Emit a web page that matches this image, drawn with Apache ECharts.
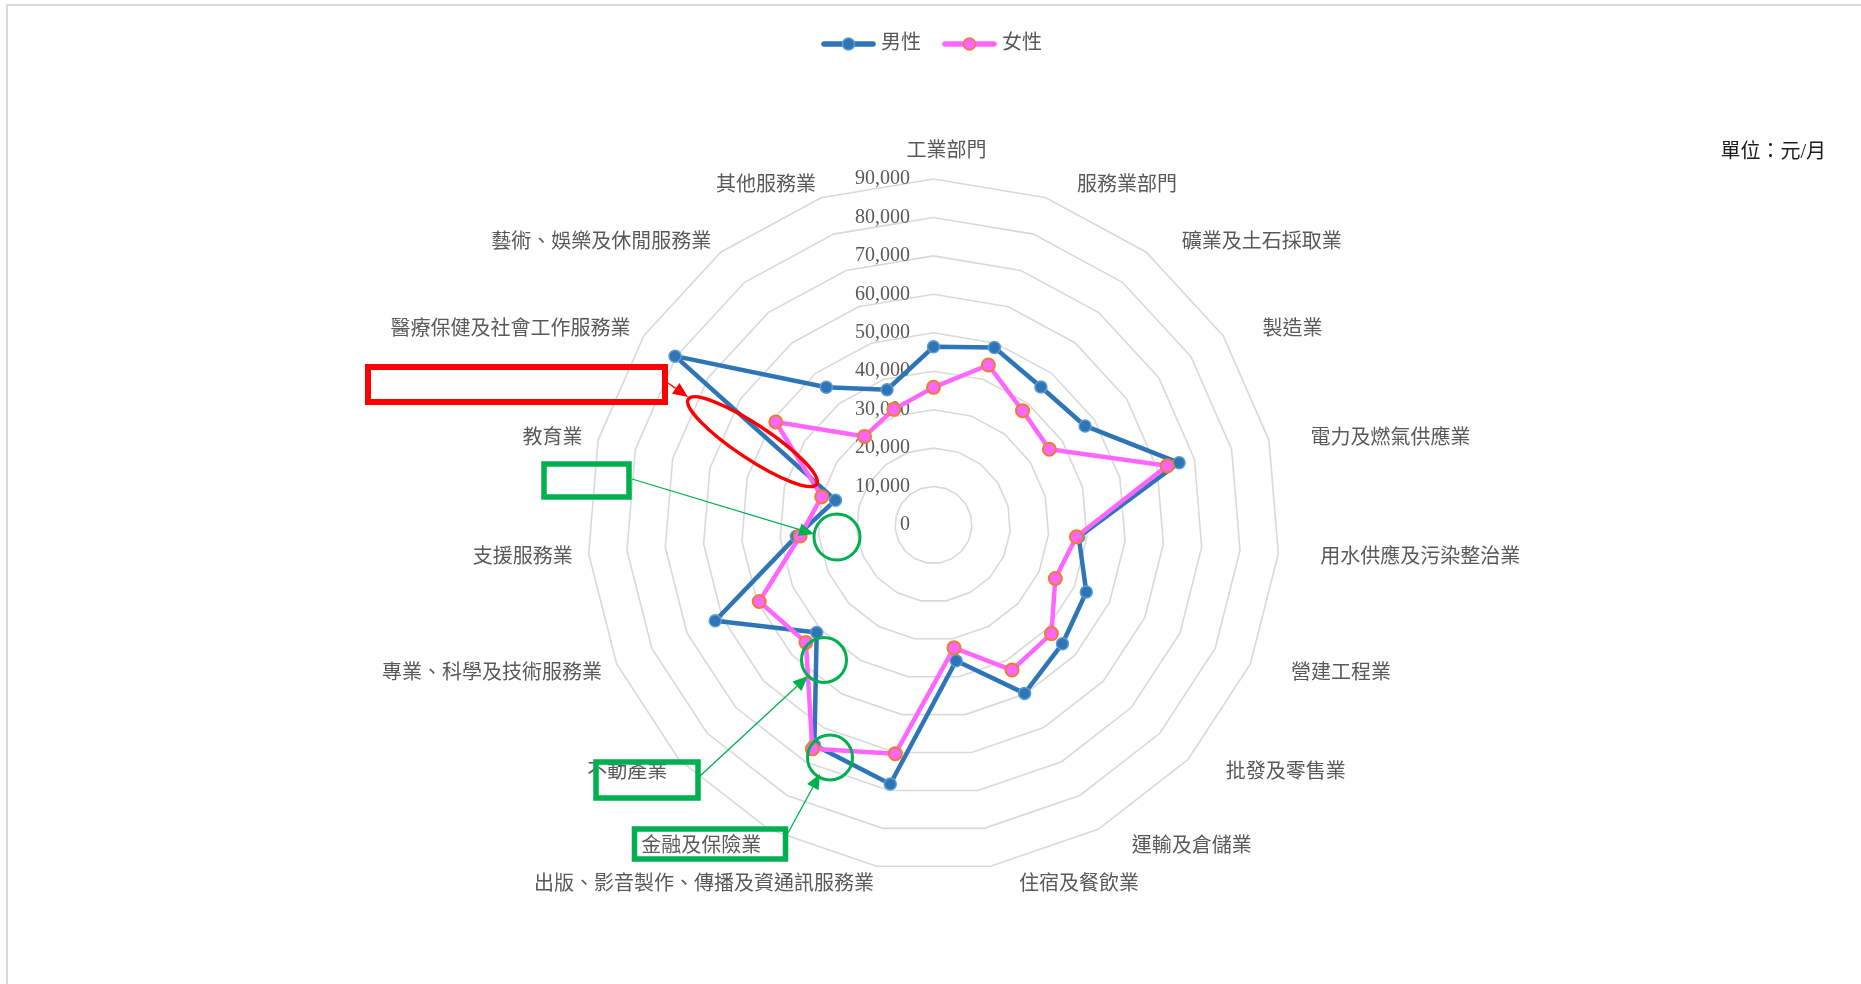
<!DOCTYPE html>
<html>
<head>
<meta charset="utf-8">
<script src="https://cdn.jsdelivr.net/npm/echarts@6/dist/echarts.min.js"></script>
<style>
html,body{margin:0;padding:0;background:#fff;overflow:hidden}
#c{position:absolute;left:0;top:0;width:1861px;height:984px}
#frame{position:absolute;left:6px;top:4px;width:1900px;height:1000px;border-left:2px solid #d9d9d9;border-top:2px solid #d9d9d9;pointer-events:none}
</style>
</head>
<body>
<div id="c"></div>
<div id="frame"></div>
<script>
// ---- data (clockwise from top) ----
const categories = ['工業部門','服務業部門','礦業及土石採取業','製造業','電力及燃氣供應業','用水供應及污染整治業','營建工程業','批發及零售業','運輸及倉儲業','住宿及餐飲業','出版、影音製作、傳播及資通訊服務業','金融及保險業','不動產業','專業、科學及技術服務業','支援服務業','教育業','醫療保健及社會工作服務業','藝術、娛樂及休閒服務業','其他服務業'];
const maleValues   = [46350, 48800, 45500, 47100, 65900, 37900, 43400, 45600, 49800, 35800, 68300, 65100, 41300, 62000, 35800, 26300, 80300, 45400, 37200];
const femaleValues = [35800, 44000, 37700, 36000, 62700, 37300, 34600, 41700, 42900, 32400, 60300, 66200, 45100, 49500, 34800, 30000, 49000, 29200, 31800];
const seriesNames = ['男性', '女性'];
const unitText = '單位：元/月';
const axisMin = 0, axisMax = 90000, axisStep = 10000;

// ---- styling ----
const FONT = '"Liberation Serif","Noto Sans CJK TC",serif';
const BLUE = '#2E75B6', BLUE_EDGE = '#5B9BD5';
const PINK = '#FF66FF', PINK_EDGE = '#ED7D31';
const TXT = '#595959';
const CX = 933.5, CY = 525, R = 346;

// ECharts places radar indicators counter-clockwise; reorder so they read clockwise
const n = categories.length;
const order = categories.map((_, k) => (k === 0 ? 0 : n - k));
const indicators = order.map(i => ({ name: categories[i], min: axisMin, max: axisMax }));
const maleData = order.map(i => maleValues[i]);
const femaleData = order.map(i => femaleValues[i]);

function legendIcon(line, fill, edge) {
  const svg = "<svg xmlns='http://www.w3.org/2000/svg' width='55' height='14'>" +
    "<line x1='3' y1='7' x2='52' y2='7' stroke='" + line + "' stroke-width='5.5' stroke-linecap='round'/>" +
    "<circle cx='27.5' cy='7' r='6' fill='" + fill + "' stroke='" + edge + "' stroke-width='1.6'/></svg>";
  return 'image://data:image/svg+xml;charset=utf-8,' + encodeURIComponent(svg);
}

function arrow(x1, y1, x2, y2, color) {
  const dx = x2 - x1, dy = y2 - y1, L = Math.hypot(dx, dy), ux = dx / L, uy = dy / L;
  const hl = 15, hw = 6.5;
  const bx = x2 - ux * hl, by = y2 - uy * hl;
  return [
    { type: 'line', z: 100, shape: { x1: x1, y1: y1, x2: bx, y2: by }, style: { stroke: color, lineWidth: 1.3 } },
    { type: 'polygon', z: 100, shape: { points: [[x2, y2], [bx - uy * hw, by + ux * hw], [bx + uy * hw, by - ux * hw]] }, style: { fill: color } }
  ];
}
const RED = '#FF0000', GREEN = '#00B050';
const annotations = [].concat(
  [{ type: 'rect', z: 100, shape: { x: 368, y: 367, width: 297, height: 35 }, style: { fill: 'none', stroke: RED, lineWidth: 6 } }],
  arrow(668, 383, 688, 397, RED),
  [{ type: 'ellipse', z: 100, x: 752.5, y: 441.7, rotation: -0.586, shape: { cx: 0, cy: 0, rx: 77, ry: 17 }, style: { fill: 'none', stroke: RED, lineWidth: 3.5 } }],
  [{ type: 'rect', z: 100, shape: { x: 544, y: 464, width: 85, height: 33 }, style: { fill: 'none', stroke: GREEN, lineWidth: 5.5 } }],
  arrow(632, 479, 814, 534, GREEN),
  [{ type: 'circle', z: 100, shape: { cx: 837, cy: 537, r: 23 }, style: { fill: 'none', stroke: GREEN, lineWidth: 3 } }],
  [{ type: 'rect', z: 100, shape: { x: 596, y: 762, width: 102, height: 36 }, style: { fill: 'none', stroke: GREEN, lineWidth: 5.5 } }],
  arrow(700, 776, 808, 676, GREEN),
  [{ type: 'circle', z: 100, shape: { cx: 824, cy: 660, r: 22.5 }, style: { fill: 'none', stroke: GREEN, lineWidth: 3 } }],
  [{ type: 'rect', z: 100, shape: { x: 634.5, y: 829, width: 151, height: 30 }, style: { fill: 'none', stroke: GREEN, lineWidth: 5.5 } }],
  arrow(788, 833, 820, 774, GREEN),
  [{ type: 'circle', z: 100, shape: { cx: 830, cy: 757.5, r: 22.5 }, style: { fill: 'none', stroke: GREEN, lineWidth: 3 } }]
);

const chart = echarts.init(document.getElementById('c'), null, { renderer: 'canvas' });
chart.setOption({
  animation: false,
  backgroundColor: '#fff',
  title: {
    text: unitText, right: 35, top: 143, padding: 0,
    textStyle: { fontSize: 20, fontWeight: 'normal', color: '#1a1a1a', fontFamily: FONT }
  },
  legend: {
    data: [
      { name: seriesNames[0], icon: legendIcon(BLUE, BLUE, BLUE_EDGE) },
      { name: seriesNames[1], icon: legendIcon(PINK, PINK, PINK_EDGE) }
    ],
    left: 816, top: 29, itemWidth: 55, itemHeight: 14, itemGap: 21,
    textStyle: { fontSize: 20, color: TXT, fontFamily: FONT }
  },
  grid: { left: 912, top: CY - R, width: 1, height: R, show: false },
  xAxis: { type: 'value', show: false },
  yAxis: {
    type: 'value', min: axisMin, max: axisMax, interval: axisStep,
    axisLine: { show: false }, axisTick: { show: false }, splitLine: { show: false },
    axisLabel: { margin: 2, color: TXT, fontSize: 20, fontFamily: FONT }
  },
  radar: {
    center: [CX, CY], radius: R, startAngle: 90, splitNumber: 9, shape: 'polygon',
    indicator: indicators,
    nameGap: 16,
    axisName: {
      color: TXT, fontSize: 20, fontFamily: FONT,
      formatter: function (name) {
        const i = categories.indexOf(name);
        if (i === 0) return '{t|' + name + '}';
        if (i >= 1 && i <= 9) return '{r|' + name + '}';
        return '{l|' + name + '}';
      },
      rich: {
        t: { color: TXT, fontSize: 20, fontFamily: FONT, padding: [0, 0, 1, 26] },
        r: { color: TXT, fontSize: 20, fontFamily: FONT, padding: [6, 0, 0, 26] },
        l: { color: TXT, fontSize: 20, fontFamily: FONT, padding: [6, 0, 0, 0] }
      }
    },
    axisLine: { show: false },
    axisTick: { show: false },
    axisLabel: { show: false },
    splitArea: { show: false },
    splitLine: { lineStyle: { color: '#D9D9D9', width: 1.6 } }
  },
  series: [
    {
      type: 'radar', name: seriesNames[0], z: 3,
      symbol: 'circle', symbolSize: 12,
      lineStyle: { color: BLUE, width: 4.5 },
      itemStyle: { color: BLUE, borderColor: BLUE_EDGE, borderWidth: 1.5 },
      data: [{ name: seriesNames[0], value: maleData }]
    },
    {
      type: 'radar', name: seriesNames[1], z: 4,
      symbol: 'circle', symbolSize: 13,
      lineStyle: { color: PINK, width: 4.5 },
      itemStyle: { color: PINK, borderColor: PINK_EDGE, borderWidth: 2 },
      data: [{ name: seriesNames[1], value: femaleData }]
    }
  ],
  graphic: { elements: annotations }
});
</script>
</body>
</html>
